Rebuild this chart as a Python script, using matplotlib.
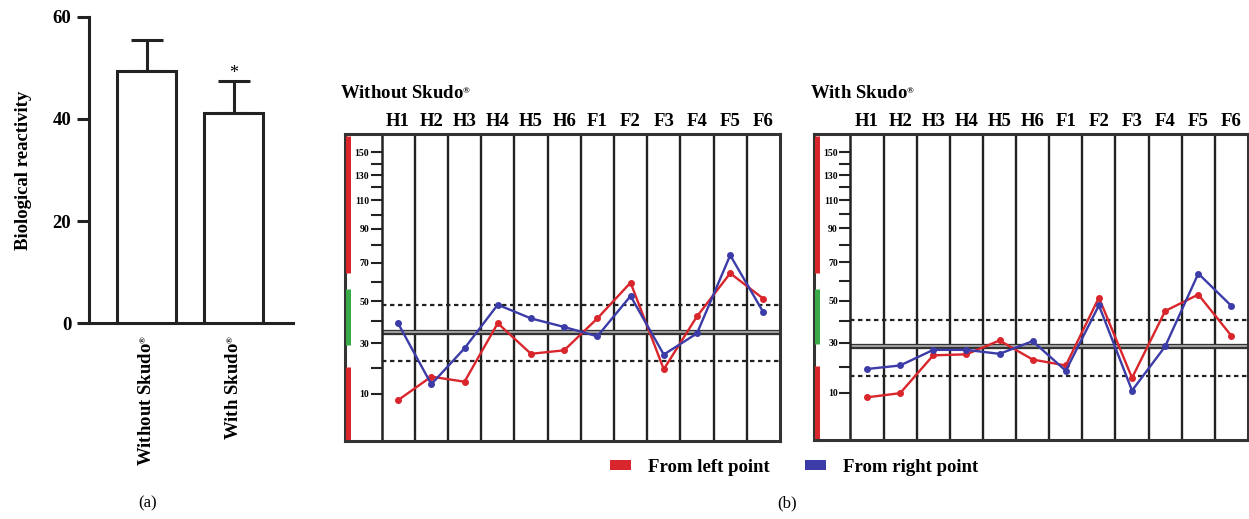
import numpy as np
import matplotlib
matplotlib.use("Agg")
import matplotlib.pyplot as plt
from matplotlib.patches import Patch

plt.rcParams['font.family'] = ['Liberation Serif', 'DejaVu Serif']
plt.rcParams['font.weight'] = 'bold'
plt.rcParams['axes.labelweight'] = 'bold'
plt.rcParams['mathtext.default'] = 'regular'

REG = r"${}^{{}_{®}}$"

# panel (a) data
groups = ["Without Skudo" + REG, "With Skudo" + REG]
means = [49.4, 41.2]
sds = [6.0, 6.2]

# panel (b) data
points = ["H1", "H2", "H3", "H4", "H5", "H6", "F1", "F2", "F3", "F4", "F5", "F6"]
left_without = [8.0, 16.7, 14.7, 39.1, 25.8, 27.2, 41.4, 59.5, 19.6, 42.4, 64.4, 51.2]
right_without = [39.0, 13.7, 28.0, 48.2, 41.4, 37.4, 33.2, 52.6, 25.5, 34.5, 74.2, 44.4]
left_with = [8.6, 9.9, 24.9, 25.3, 31.0, 23.2, 20.8, 51.5, 15.9, 44.8, 53.1, 33.1]
right_with = [19.4, 20.8, 27.1, 27.1, 25.5, 30.7, 18.7, 47.6, 10.9, 28.5, 64.0, 47.3]
# upper dotted, lower dotted, mean line
band_without = [48.0, 23.1, 35.3]
band_with = [40.1, 16.8, 28.5]
# colour zones on the scale
red_zones = [(0, 20.4), (64.5, 163)]
green_zone = (29.5, 56)

RED = "#d9262c"
BLUE = "#3c3ca8"
GREEN = "#3aaa48"
DARK = "#222222"

# non-linear scale of the measuring chart (value -> height)
knot_v = np.array([0, 2.5, 5, 7.5, 10, 20, 30, 40, 50, 60, 70, 80, 90, 100, 110, 120, 130, 140, 150, 165])
knot_h = 440 - np.array([440, 421, 410, 401, 393, 367.7, 343, 321, 301, 281.7, 262.7, 245.5, 229, 215,
                         201, 188, 176, 164.5, 153, 135])


def fwd(v):
    return np.interp(v, knot_v, knot_h)


def inv(h):
    return np.interp(h, knot_h, knot_v)


fig = plt.figure(figsize=(12.49, 5.19), dpi=100)

# ---- panel (a)
ax = fig.add_axes([0.0710, 0.3771, 0.1633, 0.5908])
x = np.arange(len(groups))
ax.bar(x, means, width=0.676, color="white", edgecolor=DARK, linewidth=2.2, zorder=3)
ax.errorbar(x, means, yerr=[[0, 0], sds], fmt="none", ecolor=DARK, elinewidth=2.2,
            capsize=11.5, capthick=2.2, zorder=2)
ax.text(1, 48.9, "*", ha="center", va="center", fontsize=13, fontweight="normal")
ax.set_xlim(-0.664, 1.672)
ax.set_ylim(0, 60)
ax.set_yticks([0, 20, 40, 60])
ax.set_xticks(x)
ax.set_xticklabels(groups, rotation=90, fontsize=13.5)
ax.tick_params(axis="x", length=0, pad=8)
ax.tick_params(axis="y", length=8.6, width=2.2, labelsize=13.5, pad=4, color=DARK)
for s in ["top", "right"]:
    ax.spines[s].set_visible(False)
for s in ["left", "bottom"]:
    ax.spines[s].set_linewidth(2.2)
    ax.spines[s].set_color(DARK)
ax.set_ylabel("Biological reactivity", fontsize=13.5, labelpad=15)


# ---- panel (b)
def chart(rect, left_vals, right_vals, band):
    ax = fig.add_axes(rect)
    ax.set_yscale("function", functions=(fwd, inv))
    ax.set_xlim(-1.1, 12)
    ax.set_ylim(0, 165)
    xs = np.arange(len(points)) + 0.5
    for i in range(1, 12):
        ax.axvline(i, color=DARK, lw=1.7, zorder=1)
    ax.axvline(-1.1, color="#333333", lw=2.2, clip_on=False, zorder=1)
    for lo, hi in red_zones:
        ax.vlines(-1.0, lo, hi, color=RED, lw=3.6, zorder=2)
    ax.vlines(-1.0, green_zone[0], green_zone[1], color=GREEN, lw=3.6, zorder=2)
    ax.hlines(band[:2], 0, 12, colors=DARK, lw=1.6, linestyles=(0, (2, 1.6)), zorder=2)
    ax.hlines(band[2], 0, 12, colors="#333333", lw=3.8, zorder=2)
    ax.hlines(band[2], 0, 12, colors="#aaaaaa", lw=1.3, zorder=2)
    ax.plot(xs, left_vals, color=RED, lw=1.7, marker="o", ms=4, zorder=4)
    ax.plot(xs, right_vals, color=BLUE, lw=1.7, marker="o", ms=4, zorder=4)

    ax.spines["left"].set_position(("data", 0))
    ax.spines["left"].set_linewidth(1.8)
    ax.spines["left"].set_color(DARK)
    for s in ["top", "right", "bottom"]:
        ax.spines[s].set_linewidth(2.2)
        ax.spines[s].set_color("#333333")
    ax.set_yticks([10, 30, 50, 70, 90, 110, 130, 150])
    ax.set_yticks([20, 40, 60, 80, 100, 120, 140], minor=True)
    ax.yaxis.set_minor_formatter(plt.NullFormatter())
    ax.tick_params(axis="y", which="both", direction="out", length=8, width=1.5,
                   labelsize=7, pad=1, color=DARK)
    ax.xaxis.set_ticks_position("top")
    ax.set_xticks(xs)
    ax.set_xticklabels(points, fontsize=13.5)
    ax.tick_params(axis="x", length=0, pad=3)
    return ax


chart([0.2762, 0.1503, 0.3483, 0.5915], left_without, right_without, band_without)
chart([0.6517, 0.1522, 0.3475, 0.5896], left_with, right_with, band_with)

fig.text(340 / 1249, 1 - 93 / 519, "Without Skudo" + REG, fontsize=13.5, va="center", ha="left")
fig.text(810 / 1249, 1 - 93 / 519, "With Skudo" + REG, fontsize=13.5, va="center", ha="left")

handles = [Patch(facecolor=RED, label="From left point"), Patch(facecolor=BLUE, label="From right point")]
fig.legend(handles=handles, loc="center", bbox_to_anchor=(794 / 1249, 1 - 467 / 519), ncol=2,
           frameon=False, fontsize=13.5, handlelength=1.12, handleheight=0.43,
           handletextpad=0.9, columnspacing=1.9)

fig.text(148 / 1249, 1 - 503 / 519, "(a)", fontsize=12, fontweight="normal", ha="center", va="center")
fig.text(787 / 1249, 1 - 503 / 519, "(b)", fontsize=12, fontweight="normal", ha="center", va="center")

fig.savefig("out.png", dpi=100)
